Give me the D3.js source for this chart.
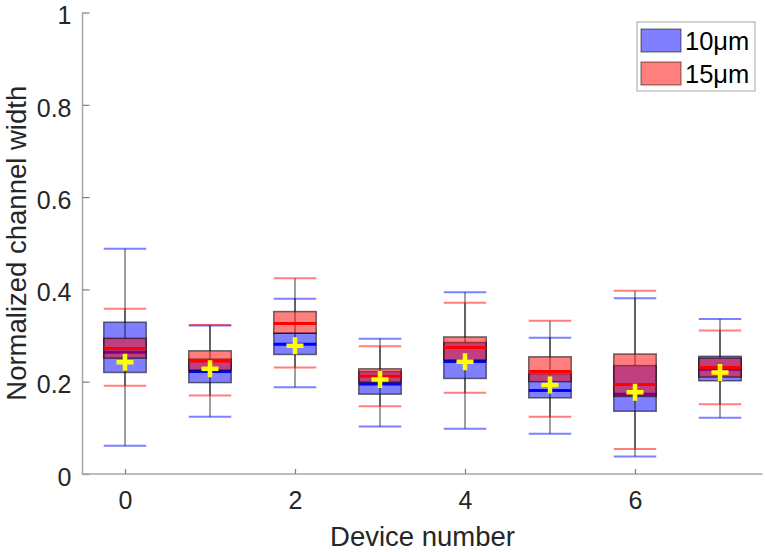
<!DOCTYPE html>
<html>
<head>
<meta charset="utf-8">
<script src="https://cdn.jsdelivr.net/npm/d3@7"></script>
<style>
  html, body { margin: 0; padding: 0; background: #fff; }
  svg { display: block; font-family: "Liberation Sans", Arial, Helvetica, sans-serif; }
</style>
</head>
<body>
<svg id="chart" width="765" height="552"></svg>
<script>
// ---- data ----
const devices = [0, 1, 2, 3, 4, 5, 6, 7];
const seriesNames = ["10μm", "15μm"];
// whisker low, Q1, median, Q3, whisker high
const blueLow  = [0.061, 0.124, 0.188, 0.103, 0.098, 0.087, 0.038, 0.122];
const blueQ1   = [0.220, 0.198, 0.259, 0.173, 0.207, 0.165, 0.136, 0.202];
const blueMed  = [0.264, 0.222, 0.281, 0.195, 0.244, 0.181, 0.173, 0.227];
const blueQ3   = [0.329, 0.249, 0.305, 0.222, 0.285, 0.217, 0.235, 0.255];
const blueHigh = [0.488, 0.322, 0.380, 0.293, 0.394, 0.295, 0.381, 0.336];
const redLow   = [0.191, 0.170, 0.231, 0.147, 0.176, 0.124, 0.054, 0.151];
const redQ1    = [0.251, 0.225, 0.305, 0.199, 0.247, 0.200, 0.168, 0.210];
const redMed   = [0.272, 0.245, 0.326, 0.212, 0.274, 0.222, 0.194, 0.231];
const redQ3    = [0.294, 0.267, 0.352, 0.228, 0.297, 0.254, 0.260, 0.251];
const redHigh  = [0.358, 0.323, 0.424, 0.277, 0.371, 0.332, 0.397, 0.311];
const means    = [0.242, 0.228, 0.278, 0.205, 0.243, 0.193, 0.177, 0.220];
const yTicks = [0, 0.2, 0.4, 0.6, 0.8, 1];
const xTicks = [0, 2, 4, 6];

// ---- layout ----
const svg = d3.select("#chart");
const x = d3.scaleLinear().domain([-0.5, 7.5]).range([82.5, 762.5]);
const y = d3.scaleLinear().domain([0, 1]).range([474, 12.5]);
const boxW = 0.5;
const axisColor = "#a6a6a6";
const textColor = "#262626";

// axes
const yAxis = d3.axisLeft(y).tickValues(yTicks).tickSize(-7).tickPadding(11)
  .tickFormat(d => d3.format("~g")(d));
const gy = svg.append("g").attr("transform", `translate(${x(-0.5)},0)`).call(yAxis);
const xAxis = d3.axisBottom(x).tickValues(xTicks).tickSize(-5).tickPadding(17)
  .tickFormat(d3.format("d"));
const gx = svg.append("g").attr("transform", `translate(0,${y(0)})`).call(xAxis);
[gx, gy].forEach(g => {
  g.select(".domain").attr("stroke", axisColor).attr("stroke-width", 1.5);
  g.selectAll(".tick line").attr("stroke", "#7f7f7f").attr("stroke-width", 1.2);
  g.selectAll(".tick text").attr("fill", textColor).attr("font-size", 25)
    .attr("font-family", "Liberation Sans, Arial, sans-serif");
});
gy.selectAll(".tick text").attr("dy", "0.45em");
gx.select(".domain").attr("d", `M${x(-0.5)},0H${x(7.5)}`);
gy.select(".domain").attr("d", `M0,${y(0)}V${y(1)}`);

svg.append("text").attr("x", x(3.5)).attr("y", 545.5).attr("text-anchor", "middle")
  .attr("font-size", 27.5).attr("fill", textColor).text("Device number");
svg.append("text").attr("transform", `translate(25.5,${(y(0)+y(1))/2}) rotate(-90)`)
  .attr("text-anchor", "middle").attr("font-size", 27.5).attr("fill", textColor)
  .text("Normalized channel width");

// boxes
function drawSeries(low, q1, med, q3, high, fill, capColor, medColor) {
  const g = svg.append("g");
  devices.forEach((d, i) => {
    const x0 = x(d - boxW / 2), x1 = x(d + boxW / 2), xc = x(d);
    g.append("line").attr("x1", xc).attr("x2", xc).attr("y1", y(q3[i])).attr("y2", y(high[i]))
      .attr("stroke", "rgba(0,0,0,0.5)").attr("stroke-width", 1.5);
    g.append("line").attr("x1", xc).attr("x2", xc).attr("y1", y(q1[i])).attr("y2", y(low[i]))
      .attr("stroke", "rgba(0,0,0,0.5)").attr("stroke-width", 1.5);
    [low[i], high[i]].forEach(v => {
      g.append("line").attr("x1", x0).attr("x2", x1).attr("y1", y(v)).attr("y2", y(v))
        .attr("stroke", capColor).attr("stroke-width", 2);
    });
    g.append("rect").attr("x", x0).attr("width", x1 - x0)
      .attr("y", y(q3[i])).attr("height", y(q1[i]) - y(q3[i]))
      .attr("fill", fill).attr("stroke", "rgba(0,0,0,0.55)").attr("stroke-width", 1.5);
    g.append("line").attr("x1", x0).attr("x2", x1).attr("y1", y(med[i])).attr("y2", y(med[i]))
      .attr("stroke", medColor).attr("stroke-width", 3);
  });
}
drawSeries(blueLow, blueQ1, blueMed, blueQ3, blueHigh,
  "rgba(0,0,255,0.5)", "rgba(0,0,255,0.5)", "#0000ff");
drawSeries(redLow, redQ1, redMed, redQ3, redHigh,
  "rgba(255,0,0,0.5)", "rgba(255,0,0,0.5)", "#ff0000");

// means
const mg = svg.append("g");
devices.forEach((d, i) => {
  const cx = x(d), cy = y(means[i]);
  mg.append("path").attr("d", `M${cx-8.5},${cy}H${cx+8.5}M${cx},${cy-8.5}V${cy+8.5}`)
    .attr("stroke", "#ffff00").attr("stroke-width", 4.5).attr("fill", "none");
});

// legend
const lg = svg.append("g");
lg.append("rect").attr("x", 637).attr("y", 22).attr("width", 118).attr("height", 69)
  .attr("fill", "#fff").attr("stroke", "#a6a6a6").attr("stroke-width", 1);
const legFills = ["rgba(0,0,255,0.5)", "rgba(255,0,0,0.5)"];
seriesNames.forEach((name, i) => {
  const yy = 29 + i * 33;
  lg.append("rect").attr("x", 641).attr("y", yy).attr("width", 40).attr("height", 23)
    .attr("fill", legFills[i]).attr("stroke", "rgba(0,0,0,0.55)").attr("stroke-width", 1);
  lg.append("text").attr("x", 685).attr("y", yy + 21).attr("font-size", 25.5)
    .attr("fill", "#000").text(name);
});
</script>
</body>
</html>
